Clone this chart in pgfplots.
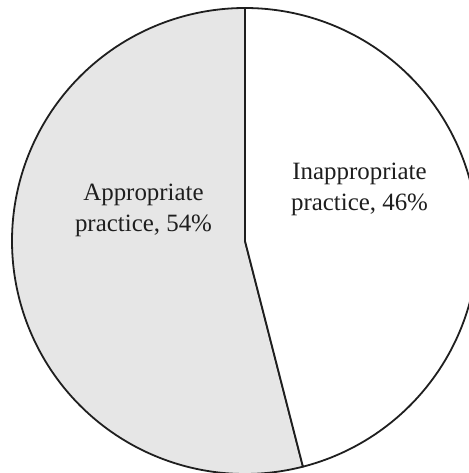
\documentclass[border=0pt]{standalone}
\usepackage{pgfplots}
\usepackage{pgfplotstable}
\pgfplotsset{compat=1.18}
\usepackage{fontspec}
\setmainfont{Liberation Serif}

\definecolor{slicegray}{RGB}{230,230,230}
\definecolor{labelgray}{RGB}{30,30,30}

% shares of the two practice groups (percent)
\pgfplotstableread{
group share
appropriate 54
inappropriate 46
}\shares
\pgfplotstablegetelem{0}{share}\of\shares \let\shareA\pgfplotsretval
\pgfplotstablegetelem{1}{share}\of\shares \let\shareB\pgfplotsretval

\begin{document}
\begin{tikzpicture}
\begin{axis}[
  width=469bp, height=473bp, scale only axis,
  xmin=0, xmax=469, ymin=0, ymax=473,
  hide axis, clip=true,
]
% pie centre and radius in axis units
\def\cx{245}\def\cy{232}\def\rr{233}
% appropriate practice: counterclockwise from the top
\addplot[fill=slicegray, draw=black!88, line width=1.8bp, line join=round,
  domain=90:{90+3.6*\shareA}, samples=200, variable=\t]
  ({\cx+\rr*cos(\t)}, {\cy+\rr*sin(\t)}) -- (axis cs:\cx,\cy) -- cycle;
% inappropriate practice: the remaining slice
\addplot[fill=white, draw=black!88, line width=1.8bp, line join=round,
  domain={90+3.6*\shareA}:{90+3.6*(\shareA+\shareB)}, samples=200, variable=\t]
  ({\cx+\rr*cos(\t)}, {\cy+\rr*sin(\t)}) -- (axis cs:\cx,\cy) -- cycle;

\node[anchor=base, align=center, text=labelgray,
  font=\fontsize{25}{32}\selectfont] at (axis cs:143.5,241)
  {Appropriate\\practice, \shareA\%};
\node[anchor=base, align=center, text=labelgray,
  font=\fontsize{25}{32}\selectfont] at (axis cs:359.5,262)
  {Inappropriate\\practice, \shareB\%};
\end{axis}
\pgfresetboundingbox
\path (current axis.south west) rectangle (current axis.north east);
\end{tikzpicture}
\end{document}
